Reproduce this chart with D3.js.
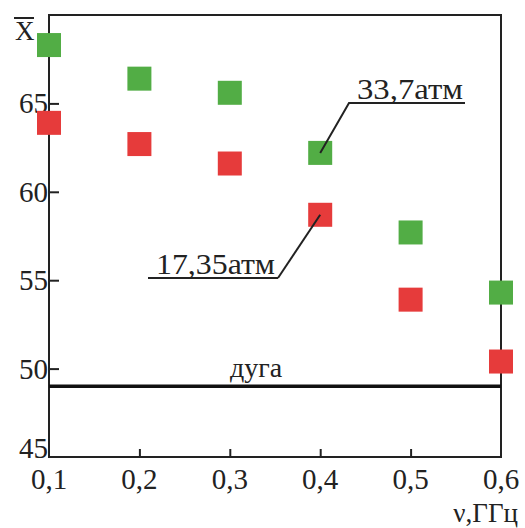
<!DOCTYPE html>
<html>
<head>
<meta charset="utf-8">
<script src="https://cdn.jsdelivr.net/npm/d3@7"></script>
<style>
  body { margin: 0; background: #fff; }
</style>
</head>
<body>
<svg id="chart"></svg>
<script>
const freqs = [0.1, 0.2, 0.3, 0.4, 0.5, 0.6];
const high = [68.3, 66.4, 65.6, 62.2, 57.7, 54.3];   // 33,7атм
const low = [63.9, 62.7, 61.6, 58.7, 53.9, 50.4];    // 17,35атм
const arc = 49.0;                                    // дуга
const xTicks = [0.1, 0.2, 0.3, 0.4, 0.5, 0.6];
const yTicks = [45, 50, 55, 60, 65];

const width = 525, height = 528;
const margin = {left: 49, right: 24, top: 15, bottom: 71};
const serif = "Tinos, 'Liberation Serif', 'DejaVu Serif', 'Times New Roman', Times, serif";

let svg = d3.select("#chart").attr("width", width).attr("height", height)
  .style("font-family", serif);

let x = d3.scaleLinear().domain([0.1, 0.6]).range([margin.left, width - margin.right]);
let y = d3.scaleLinear().domain([45, 70]).range([height - margin.bottom, margin.top]);

// frame
svg.append("rect")
  .attr("x", x(0.1)).attr("y", y(70))
  .attr("width", x(0.6) - x(0.1)).attr("height", y(45) - y(70))
  .attr("fill", "none").attr("stroke", "#222").attr("stroke-width", 2);

// ticks, pointing inwards
let xAxis = svg.append("g")
  .attr("transform", "translate(0," + y(45) + ")")
  .call(d3.axisTop(x).tickValues(xTicks.slice(1, -1)).tickSize(8).tickFormat(""));
xAxis.select(".domain").remove();
xAxis.selectAll("line").attr("stroke", "#222").attr("stroke-width", 2);

let yAxis = svg.append("g")
  .attr("transform", "translate(" + x(0.1) + ",0)")
  .call(d3.axisRight(y).tickValues(yTicks.slice(1)).tickSize(10).tickFormat(""));
yAxis.select(".domain").remove();
yAxis.selectAll("line").attr("stroke", "#222").attr("stroke-width", 2);

// tick labels
svg.selectAll(".xlab").data(xTicks).enter().append("text")
  .style("font-family", serif)
  .attr("x", d => x(d)).attr("y", y(45) + 32)
  .attr("text-anchor", "middle").attr("font-size", 29).attr("fill", "#222")
  .text(d => String(d).replace(".", ","));

svg.selectAll(".ylab").data(yTicks).enter().append("text")
  .style("font-family", serif)
  .attr("x", x(0.1) - 1).attr("y", d => d == 45 ? y(d) + 1 : y(d) + 10)
  .attr("text-anchor", "end").attr("font-size", 29).attr("fill", "#222")
  .text(d => d);

// axis titles
svg.append("text").attr("x", 15).attr("y", 40).attr("font-size", 27)
  .style("font-family", serif).attr("fill", "#222").text("X");
svg.append("line").attr("x1", 14).attr("x2", 34).attr("y1", 18).attr("y2", 18)
  .attr("stroke", "#222").attr("stroke-width", 2);
svg.append("text").attr("x", width - 7).attr("y", 522).attr("text-anchor", "end")
  .style("font-family", serif).attr("fill", "#222")
  .attr("font-size", 27).text("ν,ГГц");

// arc line
svg.append("line")
  .attr("x1", x(0.1)).attr("x2", x(0.6)).attr("y1", y(arc)).attr("y2", y(arc))
  .attr("stroke", "#111").attr("stroke-width", 3.5);
svg.append("text").attr("x", 256).attr("y", y(arc) - 9).attr("text-anchor", "middle")
  .style("font-family", serif).attr("fill", "#222")
  .attr("font-size", 28).text("дуга");

// markers
const s = 24;
svg.selectAll(".g").data(high).enter().append("rect")
  .attr("x", (d, i) => x(freqs[i]) - s / 2).attr("y", d => y(d) - s / 2)
  .attr("width", s).attr("height", s).attr("fill", "#52ad45");
svg.selectAll(".r").data(low).enter().append("rect")
  .attr("x", (d, i) => x(freqs[i]) - s / 2).attr("y", d => y(d) - s / 2)
  .attr("width", s).attr("height", s).attr("fill", "#e63b3b");

// leader lines with underlined labels
function label(txt, i, vals, tx, ty, x0, x1, lx, len) {
  svg.append("polyline")
    .attr("points", [[x(freqs[i]), y(vals[i])], [tx, ty], [x1, ty]].map(p => p.join(",")).join(" "))
    .attr("fill", "none").attr("stroke", "#222").attr("stroke-width", 2);
  svg.append("line").attr("x1", x0).attr("x2", x1).attr("y1", ty).attr("y2", ty)
    .attr("stroke", "#222").attr("stroke-width", 2);
  svg.append("text").attr("x", lx).attr("y", ty - 4).attr("font-size", 30)
    .style("font-family", serif).attr("fill", "#222")
    .attr("textLength", len).attr("lengthAdjust", "spacingAndGlyphs").text(txt);
}
label("33,7атм", 3, high, 349, 103, 349, 465, 357, 106);
label("17,35атм", 3, low, 278, 278, 148, 278, 156, 119);
</script>
</body>
</html>
